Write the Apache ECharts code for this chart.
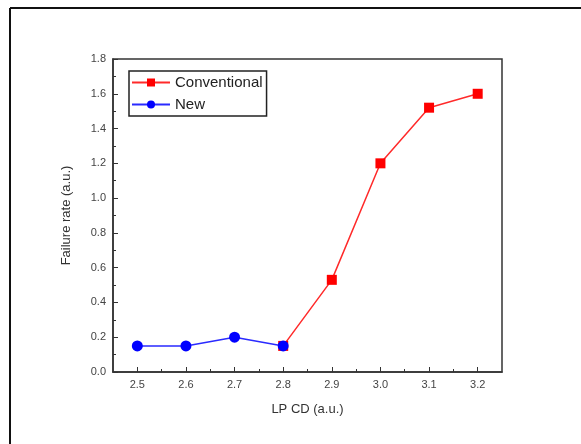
<!DOCTYPE html>
<html>
<head>
<meta charset="utf-8">
<script src="https://cdn.jsdelivr.net/npm/echarts@6/dist/echarts.min.js"></script>
<style>
  html, body { margin: 0; padding: 0; background: #fff; }
  #chart { width: 581px; height: 444px; }
</style>
</head>
<body>
<div id="chart"></div>
<script>
// LP CD values (a.u.)
const xTicks = [2.5, 2.6, 2.7, 2.8, 2.9, 3.0, 3.1, 3.2];
const xMinorTicks = [2.55, 2.65, 2.75, 2.85, 2.95, 3.05, 3.15];

// Failure rate per process
const conventionalX = [2.8, 2.9, 3.0, 3.1, 3.2];
const conventionalY = [0.15, 0.53, 1.2, 1.52, 1.6];
const newX = [2.5, 2.6, 2.7, 2.8];
const newY = [0.15, 0.15, 0.2, 0.15];

const pairs = (xs, ys) => xs.map((x, i) => [x, ys[i]]);

const axisColor = '#333';
const labelStyle = { color: '#444', fontSize: 11, fontFamily: 'Liberation Sans, Arial, sans-serif' };

const chart = echarts.init(document.getElementById('chart'));
chart.setOption({
  animation: false,
  grid: {
    left: 113, top: 59, width: 389, height: 313,
    show: true, borderColor: axisColor, borderWidth: 1.5, backgroundColor: 'transparent'
  },
  legend: {
    left: 129, top: 71,
    orient: 'vertical',
    itemWidth: 38, itemHeight: 10, itemGap: 7,
    padding: [4, 4, 4, 2],
    borderColor: '#222', borderWidth: 1.5,
    textStyle: { color: '#222', fontSize: 15, fontFamily: 'Liberation Sans, Arial, sans-serif' },
    data: ['Conventional', 'New']
  },
  xAxis: [{
    type: 'value', min: 2.45, max: 3.25,
    name: 'LP CD (a.u.)', nameLocation: 'middle', nameGap: 31,
    nameTextStyle: { color: '#333', fontSize: 13, fontFamily: 'Liberation Sans, Arial, sans-serif' },
    axisLine: { show: true, lineStyle: { color: axisColor, width: 1.5 } },
    axisTick: { show: true, inside: true, length: 5, customValues: xTicks, lineStyle: { color: axisColor } },
    axisLabel: { show: true, margin: 7, customValues: xTicks, formatter: v => v.toFixed(1), ...labelStyle },
    splitLine: { show: false }
  }, {
    type: 'value', min: 2.45, max: 3.25, position: 'bottom',
    axisLine: { show: false },
    axisTick: { show: true, inside: true, length: 3, customValues: xMinorTicks, lineStyle: { color: axisColor } },
    axisLabel: { show: false },
    splitLine: { show: false }
  }],
  yAxis: {
    type: 'value', min: 0, max: 1.8, interval: 0.2,
    name: 'Failure rate (a.u.)', nameLocation: 'middle', nameGap: 40,
    nameTextStyle: { color: '#333', fontSize: 13, fontFamily: 'Liberation Sans, Arial, sans-serif' },
    axisLine: { show: true, lineStyle: { color: axisColor, width: 1.5 } },
    axisTick: { show: true, inside: true, length: 5, lineStyle: { color: axisColor } },
    minorTick: { show: true, splitNumber: 2, length: 3, lineStyle: { color: axisColor } },
    axisLabel: { margin: 7, formatter: v => v.toFixed(1), ...labelStyle },
    splitLine: { show: false }
  },
  series: [{
    name: 'Conventional', type: 'line', xAxisIndex: 0, z: 2,
    data: pairs(conventionalX, conventionalY),
    symbol: 'rect', symbolSize: 10,
    itemStyle: { color: '#ff0000' },
    lineStyle: { color: '#ff2a2a', width: 1.5 }
  }, {
    name: 'New', type: 'line', xAxisIndex: 0, z: 3,
    data: pairs(newX, newY),
    symbol: 'circle', symbolSize: 11,
    itemStyle: { color: '#0000ff' },
    lineStyle: { color: '#2a2aff', width: 1.5 }
  }],
  graphic: [
    { type: 'line', shape: { x1: 10, y1: 8, x2: 581, y2: 8 }, style: { stroke: '#111', lineWidth: 2 } },
    { type: 'line', shape: { x1: 10, y1: 8, x2: 10, y2: 444 }, style: { stroke: '#111', lineWidth: 2 } }
  ]
});
</script>
</body>
</html>
